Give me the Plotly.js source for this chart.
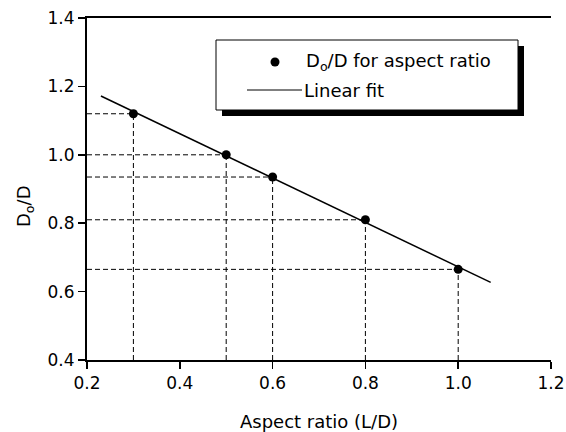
<!DOCTYPE html>
<html>
<head>
<meta charset="utf-8">
<script src="https://cdn.plot.ly/plotly-3.0.1.min.js"></script>
<style>
  html, body { margin: 0; padding: 0; background: #fff; }
  #chart { width: 566px; height: 432px; }
</style>
</head>
<body>
<div id="chart"></div>
<script>
// Measured diameter ratio vs. aspect ratio
const aspectRatio = [0.3, 0.5, 0.6, 0.8, 1.0];
const diameterRatio = [1.12, 1.0, 0.935, 0.81, 0.665];

// End points of the linear fit line
const fitX = [0.23, 1.07];
const fitY = [1.172, 0.627];

// Axis ticks
const xTicks = [0.2, 0.4, 0.6, 0.8, 1.0, 1.2];
const xTickText = ['0.2', '0.4', '0.6', '0.8', '1.0', '1.2'];
const yTicks = [0.4, 0.6, 0.8, 1.0, 1.2, 1.4];
const yTickText = ['0.4', '0.6', '0.8', '1.0', '1.2', '1.4'];

const xRange = [0.2, 1.2];
const yRange = [0.4, 1.4];

const FONT = 'DejaVu Sans, Liberation Sans, Arial, sans-serif';

// Plot area in pixels, used to place the hand-drawn legend
const M = { l: 87, r: 15, t: 18, b: 72 };
const W = 566, H = 432;
const pw = W - M.l - M.r, ph = H - M.t - M.b;
const px = v => (v - M.l) / pw;          // page x -> paper x
const py = v => (H - M.b - v) / ph;      // page y -> paper y

// Dashed guide lines from each point to both axes
const guides = [];
aspectRatio.forEach((x, i) => {
  const y = diameterRatio[i];
  const dash = { color: '#000', width: 1, dash: '5px,3px' };
  guides.push({ type: 'line', xref: 'x', yref: 'y', x0: xRange[0], x1: x, y0: y, y1: y, line: dash, layer: 'below' });
  guides.push({ type: 'line', xref: 'x', yref: 'y', x0: x, x1: x, y0: yRange[0], y1: y, line: dash, layer: 'below' });
});

// Legend box with drop shadow
const legendShapes = [
  { type: 'rect', xref: 'paper', yref: 'paper', x0: px(222), x1: px(524), y0: py(116), y1: py(46),
    fillcolor: '#000', line: { width: 0 } },
  { type: 'rect', xref: 'paper', yref: 'paper', x0: px(216), x1: px(518), y0: py(110), y1: py(40),
    fillcolor: '#fff', line: { color: '#000', width: 1 } },
  { type: 'circle', xref: 'paper', yref: 'paper', x0: px(270.5), x1: px(279.5), y0: py(66.5), y1: py(57.5),
    fillcolor: '#000', line: { color: '#000', width: 0 } },
  { type: 'line', xref: 'paper', yref: 'paper', x0: px(247), x1: px(302), y0: py(90), y1: py(90),
    line: { color: '#000', width: 1 } }
];

const traces = [
  {
    x: fitX, y: fitY, type: 'scatter', mode: 'lines',
    line: { color: '#000', width: 1.5 }, name: 'Linear fit', showlegend: false, hoverinfo: 'skip'
  },
  {
    x: aspectRatio, y: diameterRatio, type: 'scatter', mode: 'markers',
    marker: { color: '#000', size: 9 }, name: 'D<sub>o</sub>/D for aspect ratio', showlegend: false
  }
];

const layout = {
  width: W, height: H,
  margin: M,
  paper_bgcolor: '#fff', plot_bgcolor: '#fff',
  font: { family: FONT, size: 17, color: '#000' },
  showlegend: false,
  xaxis: {
    range: xRange, tickvals: xTicks, ticktext: xTickText,
    showgrid: false, zeroline: false,
    showline: true, linecolor: '#000', linewidth: 2, mirror: true,
    ticks: 'outside', ticklen: 7, tickwidth: 1.5, tickcolor: '#000',
    tickfont: { family: FONT, size: 17, color: '#000' },
    title: { text: 'Aspect ratio (L/D)', font: { family: FONT, size: 18, color: '#000' }, standoff: 24 }
  },
  yaxis: {
    range: yRange, tickvals: yTicks, ticktext: yTickText,
    showgrid: false, zeroline: false,
    showline: true, linecolor: '#000', linewidth: 2,
    ticks: 'outside', ticklen: 7, tickwidth: 1.5, tickcolor: '#000',
    tickfont: { family: FONT, size: 17, color: '#000' }
  },
  shapes: guides.concat(legendShapes),
  annotations: [
    { text: 'D<sub>o</sub>/D', xref: 'paper', yref: 'paper', x: px(25), y: py(206),
      textangle: -90, showarrow: false, xanchor: 'center', yanchor: 'middle',
      font: { family: FONT, size: 18, color: '#000' } },
    { text: 'D<sub>o</sub>/D for aspect ratio', xref: 'paper', yref: 'paper', x: px(304), y: py(62),
      showarrow: false, xanchor: 'left', yanchor: 'middle',
      font: { family: FONT, size: 18, color: '#000' } },
    { text: 'Linear fit', xref: 'paper', yref: 'paper', x: px(302), y: py(90),
      showarrow: false, xanchor: 'left', yanchor: 'middle',
      font: { family: FONT, size: 18, color: '#000' } }
  ]
};

Plotly.newPlot('chart', traces, layout, { staticPlot: true, displayModeBar: false });
</script>
</body>
</html>
